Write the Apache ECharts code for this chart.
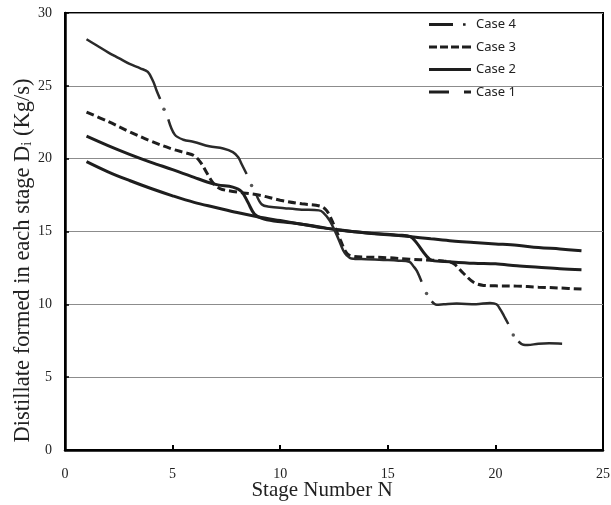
<!DOCTYPE html>
<html>
<head>
<meta charset="utf-8">
<script src="https://cdn.jsdelivr.net/npm/echarts@6/dist/echarts.min.js"></script>
<style>
  html, body { margin: 0; padding: 0; background: #fff; }
  #chart { width: 611px; height: 505px; }
</style>
</head>
<body>
<div id="chart"></div>
<script>
// axis ticks
const xTicks = [0, 5, 10, 15, 20, 25];
const yTicks = [0, 5, 10, 15, 20, 25, 30];

// Case 4 (long dash - dot), null = gap in the line
const case4 = [
  [1, 28.2], [1.5, 27.75], [2, 27.3], [2.5, 26.9], [3, 26.5], [3.5, 26.2], [3.85, 25.95], [4.1, 25.3], [4.25, 24.7], [4.42, 24.1],
  [4.6, null],
  [4.8, 22.7], [5.1, 21.65], [5.5, 21.3], [6, 21.15], [6.7, 20.85], [7.35, 20.7], [7.8, 20.45], [8.05, 20.1], [8.2, 19.65], [8.44, 18.95],
  [8.67, null],
  [8.9, 17.5], [9.15, 16.85], [9.5, 16.7], [10.2, 16.6], [11, 16.5], [11.8, 16.45], [12.0, 16.3], [12.3, 15.75], [12.63, 14.75],
  [12.93, 13.7], [13.1, 13.35], [13.3, 13.15], [14, 13.1], [14.8, 13.05], [15.5, 13.0], [16.0, 12.92], [16.2, 12.6], [16.35, 12.3], [16.57, 11.55],
  [16.8, null],
  [17.04, 10.2], [17.27, 9.97], [17.6, 10.0], [18.2, 10.05], [19.1, 10.0], [19.75, 10.1], [20.05, 10.0], [20.25, 9.6], [20.4, 9.2], [20.6, 8.65],
  [20.83, null],
  [21.07, 7.45], [21.3, 7.22], [21.5, 7.2], [22, 7.3], [22.5, 7.32], [23.1, 7.3]
];
// the dots of the dash-dot pattern
const case4Dots = [[4.6, 23.4], [8.67, 18.15], [16.8, 10.75], [20.83, 7.9]];

// Case 3 (dashed)
const case3 = [
  [1, 23.2], [2, 22.55], [3, 21.85], [4, 21.2], [5, 20.65], [5.6, 20.4], [6, 20.2], [6.3, 19.75], [6.6, 19.0], [6.9, 18.3],
  [7.2, 17.95], [7.8, 17.75], [9, 17.5], [10, 17.15], [11, 16.9], [11.85, 16.75], [12.15, 16.45], [12.45, 15.6], [12.8, 14.4],
  [13.1, 13.5], [13.4, 13.3], [14, 13.25], [15, 13.2], [16, 13.1], [17, 13.03], [17.6, 12.98], [18.05, 12.8], [18.5, 12.15],
  [19, 11.5], [19.45, 11.3], [20, 11.27], [21, 11.25], [22, 11.18], [23, 11.12], [24, 11.05]
];

// Case 2 (solid)
const case2 = [
  [1, 21.55], [2, 20.9], [3, 20.3], [4, 19.75], [5, 19.25], [6, 18.72], [6.6, 18.4], [7.1, 18.2], [7.8, 18.05], [8.2, 17.75],
  [8.5, 17.0], [8.8, 16.2], [9.15, 15.9], [9.7, 15.72], [10.5, 15.6], [11.5, 15.4], [12.5, 15.15], [13.5, 14.98], [14.5, 14.85],
  [15.5, 14.75], [16.05, 14.65], [16.35, 14.2], [16.75, 13.4], [17.05, 13.02], [17.9, 12.92], [19, 12.82], [20, 12.78],
  [21, 12.65], [22, 12.55], [23, 12.45], [24, 12.38]
];

// Case 1
const case1 = [
  [1, 19.8], [2, 19.1], [3, 18.5], [4, 17.95], [5, 17.45], [6, 17.0], [7, 16.65], [8, 16.3], [9, 16.0], [10, 15.75],
  [11, 15.5], [12, 15.25], [13, 15.05], [14, 14.9], [15, 14.78], [16, 14.65], [17, 14.5], [18, 14.35], [19, 14.25],
  [20, 14.15], [21, 14.05], [22, 13.9], [23, 13.8], [24, 13.68]
];

const legendNames = ['Case 4', 'Case 3', 'Case 2', 'Case 1'];
// legend samples, drawn in a 42 x 3 box
const legendIcons = [
  'path://M0,0H24V3H0Z M34,0.3H36.6V2.7H34Z M41.9,1.4H42V1.6H41.9Z',
  'path://M0,0H8V3H0Z M11,0H19V3H11Z M22,0H30V3H22Z M33,0H42V3H33Z',
  'path://M0,0H42V3H0Z',
  'path://M0,0H20V3H0Z M35,0H42V3H35Z'
];

const ink = '#1e1e1e';
const chart = echarts.init(document.getElementById('chart'));

chart.setOption({
  animation: false,
  backgroundColor: '#fff',
  grid: {
    left: 65, right: 8, top: 13, bottom: 55,
    outerBoundsMode: 'none', containLabel: false,
    show: true, borderColor: '#000', borderWidth: 2
  },
  legend: {
    orient: 'vertical',
    left: 429, top: 18, padding: 0,
    itemWidth: 42, itemHeight: 3, itemGap: 9.5,
    selectedMode: false,
    textStyle: { fontFamily: 'Noto Sans', fontSize: 13, color: '#222' },
    data: legendNames.map((n, i) => ({ name: n, icon: legendIcons[i] }))
  },
  xAxis: {
    type: 'value', min: xTicks[0], max: xTicks[xTicks.length - 1], interval: 5,
    name: 'Stage Number N',
    nameLocation: 'middle', nameGap: 30, nameMoveOverlap: false,
    nameTextStyle: { fontFamily: 'Liberation Serif', fontSize: 21, color: '#222', padding: [0, 24, 0, 0] },
    axisLine: { lineStyle: { color: '#000', width: 2.5 } },
    axisTick: { inside: true, length: 5, lineStyle: { color: '#000', width: 2 } },
    axisLabel: { fontFamily: 'Liberation Serif', fontSize: 14, color: '#222', margin: 17 },
    splitLine: { show: false }
  },
  yAxis: {
    type: 'value', min: yTicks[0], max: yTicks[yTicks.length - 1], interval: 5,
    name: '{a|Distillate formed in each stage D}{s|i}{a| (Kg/s)}',
    nameLocation: 'middle', nameGap: 30, nameMoveOverlap: false,
    nameTextStyle: {
      padding: [0, 58, 0, 0],
      rich: {
        a: { fontFamily: 'Liberation Serif', fontSize: 22.5, color: '#222', lineHeight: 25, verticalAlign: 'bottom' },
        s: { fontFamily: 'Liberation Serif', fontSize: 14.5, color: '#222', verticalAlign: 'bottom' }
      }
    },
    axisLine: { lineStyle: { color: '#000', width: 2.5 } },
    axisTick: { inside: true, length: 4, lineStyle: { color: '#000', width: 1.5 } },
    axisLabel: { fontFamily: 'Liberation Serif', fontSize: 14, color: '#222', margin: 13 },
    splitLine: { lineStyle: { color: '#8c8c8c', width: 1 } }
  },
  series: [
    {
      name: 'Case 4', type: 'line', data: case4, smooth: 0.35, connectNulls: false,
      showSymbol: false, color: ink, lineStyle: { width: 2.5, color: '#2a2a2a' }, z: 5
    },
    {
      name: 'Case 4 dots', type: 'scatter', data: case4Dots, symbol: 'circle', symbolSize: 3.5,
      itemStyle: { color: '#2a2a2a' }, z: 5
    },
    {
      name: 'Case 3', type: 'line', data: case3, smooth: 0.35,
      showSymbol: false, color: ink, lineStyle: { width: 3, color: ink, type: [8, 4] }
    },
    {
      name: 'Case 2', type: 'line', data: case2, smooth: 0.35,
      showSymbol: false, color: ink, lineStyle: { width: 3, color: ink }
    },
    {
      name: 'Case 1', type: 'line', data: case1, smooth: 0.35,
      showSymbol: false, color: ink, lineStyle: { width: 3, color: ink }
    }
  ]
});
</script>
</body>
</html>
